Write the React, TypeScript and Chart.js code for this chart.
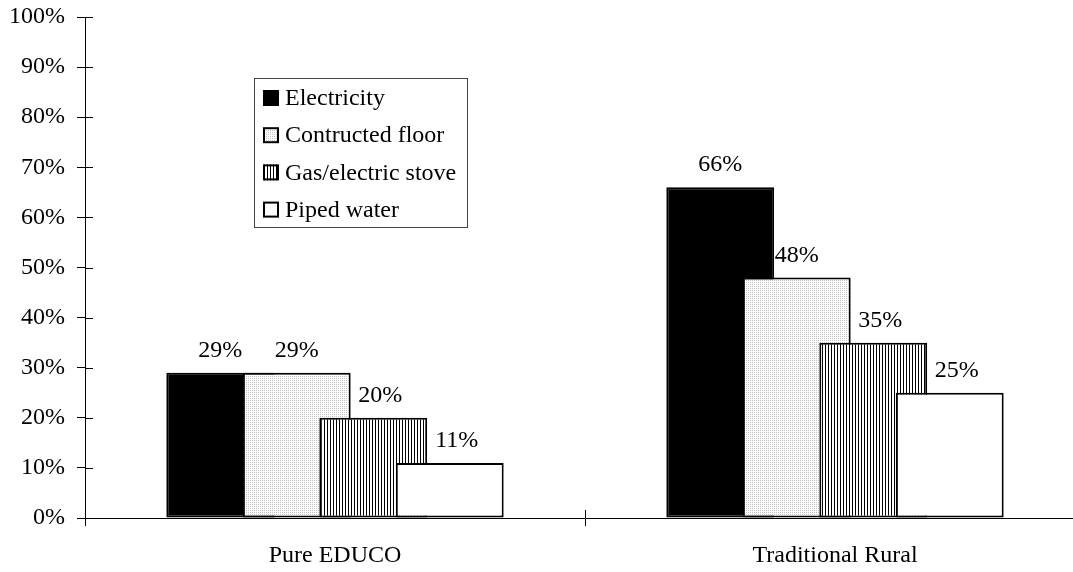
import React, { useEffect, useRef } from "react";
import { Chart, registerables } from "chart.js";

Chart.register(...registerables);

const categories = ["Pure EDUCO", "Traditional Rural"];
const seriesNames = ["Electricity", "Contructed floor", "Gas/electric stove", "Piped water"];
const electricity = [29, 66];
const constructedFloor = [29, 48];
const gasStove = [20, 35];
const pipedWater = [11, 25];
const yMin = 0;
const yMax = 100;
const yStep = 10;

const FONT = "'Liberation Serif', 'Times New Roman', serif";

function makeDotPattern(ctx: CanvasRenderingContext2D) {
  const c = document.createElement("canvas");
  c.width = 2;
  c.height = 2;
  const x = c.getContext("2d")!;
  x.fillStyle = "#ffffff";
  x.fillRect(0, 0, 2, 2);
  x.fillStyle = "#c4c4c4";
  x.fillRect(0, 0, 1, 1);
  return ctx.createPattern(c, "repeat")!;
}

function makeStripePattern(ctx: CanvasRenderingContext2D) {
  const c = document.createElement("canvas");
  c.width = 3;
  c.height = 3;
  const x = c.getContext("2d")!;
  x.fillStyle = "#ffffff";
  x.fillRect(0, 0, 3, 3);
  x.fillStyle = "#000000";
  x.fillRect(0, 0, 1, 3);
  return ctx.createPattern(c, "repeat")!;
}

export default function App() {
  const ref = useRef<HTMLCanvasElement | null>(null);

  useEffect(() => {
    const canvas = ref.current!;
    const ctx = canvas.getContext("2d")!;
    const dot = makeDotPattern(ctx);
    const stripe = makeStripePattern(ctx);
    const fills: any[] = ["#000000", dot, stripe, "#ffffff"];
    const values = [electricity, constructedFloor, gasStove, pipedWater];

    const drawOrderPlugin = {
      id: "drawOrder",
      beforeDatasetsDraw(chart: any) {
        for (let i = 0; i < chart.data.datasets.length; i++) {
          const meta = chart.getDatasetMeta(i);
          if (!meta.hidden) meta.controller.draw();
        }
        return false;
      },
    };

    const decorPlugin = {
      id: "decor",
      afterDraw(chart: any) {
        const c = chart.ctx as CanvasRenderingContext2D;
        const xs = chart.scales.x;
        const ys = chart.scales.y;
        c.save();
        c.strokeStyle = "#000";
        c.lineWidth = 1;
        c.beginPath();
        for (let v = yMin; v <= yMax; v += yStep) {
          const py = Math.round(ys.getPixelForValue(v)) + 0.5;
          c.moveTo(Math.round(xs.left), py);
          c.lineTo(Math.round(xs.left) + 8, py);
        }
        const n = chart.data.labels.length;
        for (let i = 0; i <= n; i++) {
          const px = Math.round(xs.left + (i * xs.width) / n) + 0.5;
          c.moveTo(px, Math.round(ys.bottom) - 8);
          c.lineTo(px, Math.round(ys.bottom));
        }
        c.stroke();

        c.fillStyle = "#000";
        c.font = `24px ${FONT}`;
        c.textAlign = "center";
        c.textBaseline = "alphabetic";
        chart.data.datasets.forEach((ds: any, i: number) => {
          const meta = chart.getDatasetMeta(i);
          meta.data.forEach((bar: any, j: number) => {
            c.fillText(`${ds.data[j]}%`, bar.x + (i >= 2 ? 7 : 0), bar.y - 16);
          });
        });

        const lx = 254, ly = 78, lw = 213, lh = 149;
        c.fillStyle = "#fff";
        c.fillRect(lx, ly, lw, lh);
        c.strokeStyle = "#444";
        c.lineWidth = 1;
        c.strokeRect(lx + 0.5, ly + 0.5, lw, lh);
        c.textAlign = "left";
        c.textBaseline = "middle";
        chart.data.datasets.forEach((ds: any, i: number) => {
          const cy = 98 + i * 37.2;
          const sx = 263, sz = 16;
          c.fillStyle = ds.backgroundColor;
          c.fillRect(sx, cy - sz / 2, sz, sz);
          c.strokeStyle = "#000";
          c.lineWidth = 2;
          c.strokeRect(sx + 1, cy - sz / 2 + 1, sz - 2, sz - 2);
          c.fillStyle = "#000";
          c.fillText(ds.label, 285, cy + 1);
        });
        c.restore();
      },
    };

    const chart = new Chart(canvas, {
      type: "bar",
      data: {
        labels: categories,
        datasets: seriesNames.map((name, i) => ({
          label: name,
          data: values[i],
          backgroundColor: fills[i],
          borderColor: "#000",
          borderWidth: 2,
          borderSkipped: false,
          categoryPercentage: 0.612,
          barPercentage: 1.41,
        })),
      },
      options: {
        responsive: false,
        animation: false,
        layout: { padding: { top: 17, right: 15, left: 0, bottom: 0 } },
        plugins: { legend: { display: false }, tooltip: { enabled: false } },
        scales: {
          x: {
            afterFit: (s: any) => {
              s.height = 54;
              s.paddingLeft = 0;
              s.paddingRight = 0;
            },
            grid: { drawOnChartArea: false, drawTicks: true, tickLength: 8, color: "#000" },
            border: { display: true, color: "#000", width: 1 },
            ticks: { color: "#000", padding: 15, font: { family: FONT, size: 24 } },
          },
          y: {
            min: yMin,
            max: yMax,
            afterFit: (s: any) => {
              s.width = 85;
              s.paddingTop = 0;
              s.paddingBottom = 0;
            },
            grid: { drawOnChartArea: false, drawTicks: true, tickLength: 8, color: "#000" },
            border: { display: true, color: "#000", width: 1 },
            ticks: {
              stepSize: yStep,
              color: "#000",
              padding: 12,
              font: { family: FONT, size: 24 },
              callback: (v: any) => `${v}%`,
            },
          },
        },
      },
      plugins: [drawOrderPlugin, decorPlugin],
    });
    return () => chart.destroy();
  }, []);

  return (
    <div
      style={{
        position: "fixed",
        left: 0,
        top: 0,
        width: 1073,
        height: 572,
        overflow: "hidden",
        background: "#fff",
      }}
    >
      <canvas ref={ref} width={1100} height={572} style={{ display: "block" }} />
    </div>
  );
}
